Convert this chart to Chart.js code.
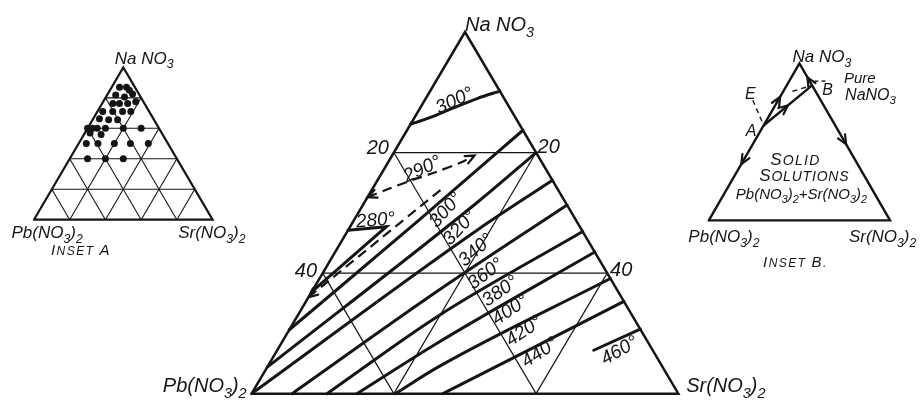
<!DOCTYPE html>
<html>
<head>
<meta charset="utf-8">
<script src="https://cdn.jsdelivr.net/npm/chart.js@4.4.1/dist/chart.umd.min.js"></script>
<style>
  html, body { margin: 0; padding: 0; background: #fff; }
  canvas { display: block; }
</style>
</head>
<body>
<canvas id="diagram" width="923" height="406"></canvas>
<script>
// Compositions are [Pb(NO3)2 %, Sr(NO3)2 %]; NaNO3 is the rest.
// Main diagram only covers NaNO3 from 40 to 100 %.

// --- Main diagram: isotherms ---
const isoTop300 = [[15.3, 0], [12.3, 2.0], [7.7, 4.8], [3.7, 7.3], [0, 9.8]];
const iso290 = [[27.4, 0], [23.7, 2.3], [19.8, 4.8], [15.9, 7.4], [11.3, 10.3], [8.9, 11.6]];
const iso280 = [[32.9, 0], [27.2, 5.1], [43.1, 0]];
const dashedTie = [[44.0, 0], [15.6, 10.0]];
const iso300 = [[49.4, 0], [22.2, 9.1], [0, 16.3]];
const iso320 = [[55.6, 0], [12.3, 15.9], [0, 20]];
const iso340 = [[60, 0], [14.6, 18.2], [0, 24.6]];
const iso360 = [[54.3, 5.7], [25.2, 17.7], [0, 28.7]];
const iso380 = [[49.4, 10.6], [27.3, 19.8], [0, 33.1]];
const iso400 = [[45.2, 14.8], [29.5, 22.0], [0, 36.5]];
const iso420 = [[39.8, 20.2], [31.6, 24.0], [0, 40.9]];
const iso440 = [[33.1, 26.9], [0, 44.7]];
const iso460 = [[8.3, 44.5], [0, 49.3]];
const mainGridSteps = [20, 40];

// --- Inset A: measured compositions ---
const insetADots = [
  [8.6, 4.4], [4.7, 8.3], [4.1, 10.9], [3.5, 13.9], [9.0, 10.4], [13.3, 4.8],
  [17.7, 6.0], [14.0, 9.7], [9.4, 14.3], [4.3, 18.3],
  [26.0, 3.0], [20.4, 8.6], [14.9, 14.1], [10.3, 18.7],
  [30.2, 3.5], [25.4, 9.0], [20.4, 14.0],
  [40.0, 0], [37.2, 2.8], [34.6, 5.4], [30.0, 10.0], [20.0, 20.0], [10.0, 30.0],
  [40.1, 2.9], [34.5, 9.6],
  [45.7, 4.3], [39.2, 10.8], [30.0, 20.0], [21.0, 29.0], [11.0, 39.0],
  [50.0, 10.0], [40.0, 20.0], [30.0, 30.0]
];
const insetGridSteps = [20, 40, 60, 80];

// --- Inset B: crystallisation paths ---
const pointA = [39.5, 0];
const pointB = [0, 14];
const pathAB = [pointA, pointB];
const dashedEA = [[37.4, -14.0], pointA];
const dashedToB = [[12.7, 5.0], pointB];
const barB = [[-2.6, 13.9], [-9.2, 20.4]];

const INK = '#151515';
const NA_MIN = { M: 40, A: 0, B: 0 };
const H = Math.sqrt(3) / 2;

// ternary -> cartesian units of each triangle
function toXY(ax, p) {
  const h = 100 - p[0] - p[1] - NA_MIN[ax];
  return { x: p[1] + h / 2, y: h * H };
}

function frame(ax) {
  const T = 100 - NA_MIN[ax];
  return [[T, 0], [0, T], [0, 0], [T, 0]];
}

function gridLines(ax, steps) {
  const T = 100 - NA_MIN[ax];
  const out = [];
  steps.forEach(s => {
    out.push([[s, 0], [0, s]]);       // constant NaNO3
    out.push([[s, 0], [s, T - s]]);   // constant Pb(NO3)2
    out.push([[0, s], [T - s, s]]);   // constant Sr(NO3)2
  });
  return out;
}

const datasets = [];
function addLine(ax, pts, style) {
  datasets.push(Object.assign({
    data: pts.map(p => toXY(ax, p)),
    xAxisID: 'x' + ax, yAxisID: 'y' + ax,
    showLine: true, borderColor: INK, borderWidth: 2,
    pointRadius: 0, pointHoverRadius: 0, tension: 0,
    clip: false, fill: false, borderCapStyle: 'round'
  }, style || {}));
}

const thin = { borderWidth: 1.2, borderCapStyle: 'butt' };
const dashed = { borderWidth: 2.2, borderDash: [10, 6], borderCapStyle: 'butt' };
const thick = { borderWidth: 3 };

// main
gridLines('M', mainGridSteps).forEach(l => addLine('M', l, thin));
addLine('M', frame('M'), { borderWidth: 2.5, borderJoinStyle: 'miter', borderCapStyle: 'butt' });
addLine('M', isoTop300, Object.assign({ tension: 0.3 }, thick));
addLine('M', iso290, Object.assign({ tension: 0.3 }, dashed));
addLine('M', iso280, thick);
addLine('M', dashedTie, dashed);
[iso300, iso320, iso340, iso360, iso380, iso400, iso420, iso440, iso460]
  .forEach(l => addLine('M', l, Object.assign({ cubicInterpolationMode: 'monotone' }, thick)));

// inset A
gridLines('A', insetGridSteps).forEach(l => addLine('A', l, { borderWidth: 1.1, borderCapStyle: 'butt' }));
addLine('A', frame('A'), { borderWidth: 2.2, borderJoinStyle: 'miter' });
datasets.push({
  data: insetADots.map(p => toXY('A', p)),
  xAxisID: 'xA', yAxisID: 'yA', showLine: false,
  pointRadius: 3.5, pointHoverRadius: 3.5,
  pointBackgroundColor: INK, pointBorderColor: INK, pointBorderWidth: 0, clip: false
});

// inset B
addLine('B', frame('B'), { borderWidth: 2.4, borderJoinStyle: 'miter' });
addLine('B', pathAB, { borderWidth: 2.4 });
addLine('B', dashedEA, { borderWidth: 1.4, borderDash: [5, 4], borderCapStyle: 'butt' });
addLine('B', dashedToB, { borderWidth: 1.4, borderDash: [5, 4], borderCapStyle: 'butt' });
addLine('B', barB, { borderWidth: 1.4, borderDash: [4, 3], borderCapStyle: 'butt' });

// arrowheads: tip at "at", pointing away from "from"
const arrows = [
  { ax: 'M', at: [27.4, 0], from: [23.7, 2.3] },
  { ax: 'M', at: [8.9, 11.6], from: [11.3, 10.3] },
  { ax: 'M', at: [44.0, 0], from: [15.6, 10.0] },
  { ax: 'B', at: [21.3, 0], from: pointA },
  { ax: 'B', at: [19.7, 7.0], from: pointA },
  { ax: 'B', at: [0, 8.8], from: pointB },
  { ax: 'B', at: [0, 51.5], from: [0, 0] },
  { ax: 'B', at: [64.1, 0], from: pointA }
];

// labels, positions in cartesian units of each triangle
const labels = [
  { ax: 'M', t: 'Na NO_3', x: 30.0, y: 52.1, size: 20, align: 'left' },
  { ax: 'M', t: 'Pb(NO_3)_2', x: -0.7, y: 0.2, size: 20, align: 'right' },
  { ax: 'M', t: 'Sr(NO_3)_2', x: 61.1, y: 0.2, size: 20, align: 'left' },
  { ax: 'M', t: '20', x: 19.3, y: 34.45, size: 20, align: 'right' },
  { ax: 'M', t: '20', x: 40.2, y: 34.6, size: 20, align: 'left' },
  { ax: 'M', t: '40', x: 9.2, y: 16.7, size: 20, align: 'right' },
  { ax: 'M', t: '40', x: 50.4, y: 16.9, size: 20, align: 'left' },
  { ax: 'A', t: 'Na NO_3', x: 45.2, y: 88.8, size: 17, align: 'left' },
  { ax: 'A', t: 'Pb(NO_3)_2', x: -12.6, y: -10.6, size: 17, align: 'left' },
  { ax: 'A', t: 'Sr(NO_3)_2', x: 80.7, y: -10.6, size: 17, align: 'left' },
  { ax: 'B', t: 'Na NO_3', x: 46.2, y: 87.15, size: 17, align: 'left' },
  { ax: 'B', t: 'Pure', x: 74.6, y: 75.8, size: 15, align: 'left' },
  { ax: 'B', t: 'NaNO_3', x: 75.2, y: 66.5, size: 16, align: 'left' },
  { ax: 'B', t: 'E', x: 19.9, y: 67.1, size: 16, align: 'left' },
  { ax: 'B', t: 'A', x: 20.4, y: 46.5, size: 16, align: 'left' },
  { ax: 'B', t: 'B', x: 62.6, y: 69.3, size: 16, align: 'left' },
  { ax: 'B', t: 'Pb(NO_3)_2+Sr(NO_3)_2', x: 51.1, y: 11.8, size: 15, align: 'center' },
  { ax: 'B', t: 'Pb(NO_3)_2', x: -11.3, y: -12.1, size: 17, align: 'left' },
  { ax: 'B', t: 'Sr(NO_3)_2', x: 77.3, y: -12.1, size: 17, align: 'left' }
];

const isoTemps = ['300°', '290°', '280°', '300°', '320°', '340°', '360°', '380°', '400°', '420°', '440°', '460°'];
const isoLabelPos = [
  [28.46, 42.26, -25], [23.9, 32.43, -25], [17.4, 25.09, -5],
  [27.17, 26.5, -48], [29.12, 23.96, -47], [31.44, 20.76, -41], [32.79, 17.37, -37],
  [34.84, 14.87, -35], [36.24, 12.19, -34], [38.19, 9.14, -34], [40.42, 6.07, -34],
  [51.63, 6.35, -30]
];

// small caps captions
const captions = [
  { ax: 'A', t: 'INSET A', x: 26.3, y: -20.1, big: 15, small: 12, gap: 1.5 },
  { ax: 'B', t: 'INSET B.', x: 47.8, y: -25.65, big: 15, small: 12, gap: 1.5 },
  { ax: 'B', t: 'SOLID', x: 47.8, y: 30.75, big: 17, small: 14, gap: 1.3 },
  { ax: 'B', t: 'SOLUTIONS', x: 52.7, y: 21.5, big: 17, small: 14, gap: 0.8 }
];

const fontOf = sz => `italic ${sz}px "Liberation Sans", "DejaVu Sans", sans-serif`;

function drawRich(ctx, text, x, y, size, align, rot) {
  const segs = [];
  for (let i = 0; i < text.length; i++) {
    if (text[i] === '_') segs.push({ s: text[++i], sub: true });
    else segs.push({ s: text[i], sub: false });
  }
  let w = 0;
  segs.forEach(g => {
    ctx.font = fontOf(g.sub ? size * 0.72 : size);
    g.w = ctx.measureText(g.s).width;
    w += g.w;
  });
  ctx.save();
  ctx.translate(x, y);
  if (rot) ctx.rotate(rot * Math.PI / 180);
  let cx = align === 'left' ? 0 : align === 'right' ? -w : -w / 2;
  const base = rot !== undefined ? size * 0.36 : 0;
  segs.forEach(g => {
    ctx.font = fontOf(g.sub ? size * 0.72 : size);
    ctx.fillText(g.s, cx, base + (g.sub ? size * 0.28 : 0));
    cx += g.w;
  });
  ctx.restore();
}

function drawCaps(ctx, c, x, y) {
  const chars = c.t.split('').map((ch, i, a) => {
    const big = i === 0 || a[i - 1] === ' ';
    return { ch, size: big ? c.big : c.small };
  });
  let w = 0;
  chars.forEach(g => {
    ctx.font = fontOf(g.size);
    g.w = ctx.measureText(g.ch).width + c.gap;
    w += g.w;
  });
  let cx = x - w / 2;
  chars.forEach(g => {
    ctx.font = fontOf(g.size);
    ctx.fillText(g.ch, cx, y);
    cx += g.w;
  });
}

const decorations = {
  id: 'decorations',
  afterDatasetsDraw(chart) {
    const ctx = chart.ctx;
    const px = (ax, pt) => ({
      x: chart.scales['x' + ax].getPixelForValue(pt.x),
      y: chart.scales['y' + ax].getPixelForValue(pt.y)
    });
    ctx.save();
    ctx.fillStyle = INK;
    ctx.strokeStyle = INK;

    // arrowheads
    ctx.lineWidth = 2.2;
    ctx.lineCap = 'round';
    arrows.forEach(a => {
      const tip = px(a.ax, toXY(a.ax, a.at));
      const back = px(a.ax, toXY(a.ax, a.from));
      const ang = Math.atan2(tip.y - back.y, tip.x - back.x);
      const L = 10;
      ctx.beginPath();
      ctx.moveTo(tip.x - L * Math.cos(ang - 0.42), tip.y - L * Math.sin(ang - 0.42));
      ctx.lineTo(tip.x, tip.y);
      ctx.lineTo(tip.x - L * Math.cos(ang + 0.42), tip.y - L * Math.sin(ang + 0.42));
      ctx.stroke();
    });

    labels.forEach(l => {
      const p = px(l.ax, l);
      drawRich(ctx, l.t, p.x, p.y, l.size, l.align);
    });
    isoTemps.forEach((t, i) => {
      const p = px('M', { x: isoLabelPos[i][0], y: isoLabelPos[i][1] });
      drawRich(ctx, t, p.x, p.y, 19, 'center', isoLabelPos[i][2]);
    });
    captions.forEach(c => {
      const p = px(c.ax, c);
      drawCaps(ctx, c, p.x, p.y);
    });
    ctx.restore();
  }
};

const hidden = (axis, min, max) => ({ type: 'linear', axis, display: false, min, max, bounds: 'data' });

new Chart(document.getElementById('diagram'), {
  type: 'scatter',
  data: { datasets },
  options: {
    responsive: false,
    maintainAspectRatio: false,
    animation: false,
    events: [],
    layout: { padding: 0 },
    plugins: { legend: { display: false }, tooltip: { enabled: false } },
    scales: {
      x: hidden('x', 0, 1),
      y: hidden('y', 0, 1),
      xM: hidden('x', -34.884, 93.907),
      yM: hidden('y', -1.271, 56.056),
      xA: hidden('x', -17.056, 495.72),
      yA: hidden('y', -103.92, 122.92),
      xB: hidden('x', -389.21, 116.26),
      yB: hidden('y', -100.49, 119.69)
    }
  },
  plugins: [decorations]
});
</script>
</body>
</html>
